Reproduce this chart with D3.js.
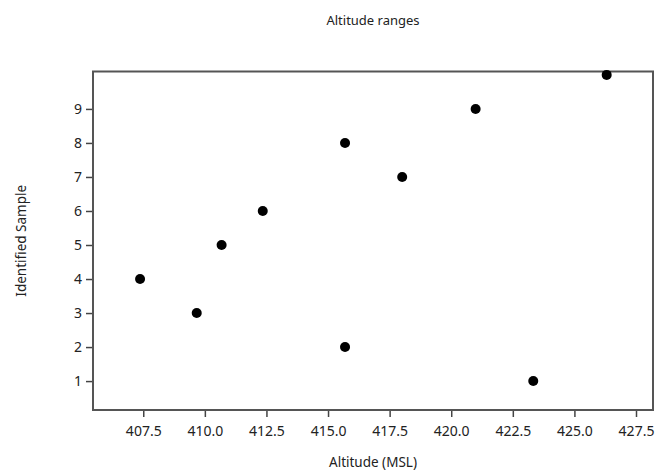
<!DOCTYPE html>
<html>
<head>
<meta charset="utf-8">
<script src="https://cdn.jsdelivr.net/npm/d3@7"></script>
<style>
  body { margin: 0; background: #fff; }
  text { font-family: "Noto Sans", "Open Sans", sans-serif; fill: #222; }
</style>
</head>
<body>
<div id="root"></div>
<script>
// sample id vs altitude
const samples = [1, 2, 3, 4, 5, 6, 7, 8, 9, 10]
const altitudes = [423.33, 415.69, 409.67, 407.37, 410.68, 412.35, 418.01, 415.69, 420.99, 426.31]
const xTicks = [407.5, 410.0, 412.5, 415.0, 417.5, 420.0, 422.5, 425.0, 427.5]
const yTicks = [1, 2, 3, 4, 5, 6, 7, 8, 9]

const width = 659, height = 471
const margin = { top: 71.5, right: 6, bottom: 61, left: 93 }

const svg = d3.select("#root").append("svg")
    .attr("width", width).attr("height", height)

const x = d3.scaleLinear()
    .domain([405.46, 428.19])
    .range([margin.left, width - margin.right])
const y = d3.scaleLinear()
    .domain([0.15, 10.1])
    .range([height - margin.bottom, margin.top])

// x axis
const xAxis = svg.append("g")
    .attr("transform", `translate(0,${height - margin.bottom})`)
    .call(d3.axisBottom(x).tickValues(xTicks).tickFormat(d3.format(".1f")).tickSize(7).tickPadding(9))
xAxis.select(".domain").remove()
xAxis.selectAll("line").attr("stroke", "#444").attr("stroke-width", 1.5)
xAxis.selectAll("text").style("font-size", "14px").style("fill", "#222")

// y axis
const yAxis = svg.append("g")
    .attr("transform", `translate(${margin.left},0)`)
    .call(d3.axisLeft(y).tickValues(yTicks).tickSize(7).tickPadding(4))
yAxis.select(".domain").remove()
yAxis.selectAll("line").attr("stroke", "#444").attr("stroke-width", 1.5)
yAxis.selectAll("text").style("font-size", "14px").style("fill", "#222")

// frame
svg.append("rect")
    .attr("x", margin.left).attr("y", margin.top)
    .attr("width", width - margin.left - margin.right)
    .attr("height", height - margin.top - margin.bottom)
    .attr("fill", "none").attr("stroke", "#555").attr("stroke-width", 2)

// points
svg.append("g").selectAll("circle")
    .data(samples)
    .join("circle")
    .attr("cx", (d, i) => x(altitudes[i]))
    .attr("cy", d => y(d))
    .attr("r", 5)
    .attr("fill", "#000")

// titles
svg.append("text")
    .attr("x", (margin.left + width - margin.right) / 2).attr("y", 25)
    .attr("text-anchor", "middle").style("font-size", "13px")
    .text("Altitude ranges")

svg.append("text")
    .attr("x", (margin.left + width - margin.right) / 2).attr("y", 467)
    .attr("text-anchor", "middle").style("font-size", "13.5px")
    .text("Altitude (MSL)")

svg.append("text")
    .attr("transform", `translate(26,${(margin.top + height - margin.bottom) / 2}) rotate(-90)`)
    .attr("text-anchor", "middle").style("font-size", "13.5px")
    .text("Identified Sample")
</script>
</body>
</html>
